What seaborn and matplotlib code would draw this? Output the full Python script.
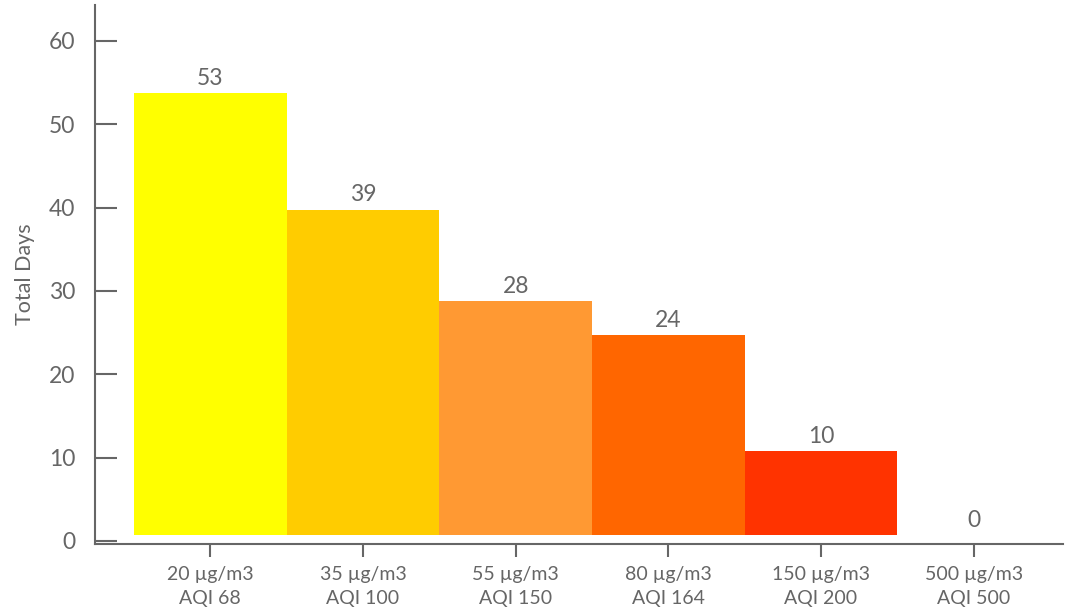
import matplotlib
matplotlib.use("Agg")
import matplotlib.pyplot as plt
import seaborn as sns
import pandas as pd

# PM2.5 categories and the number of days in each
categories = ["20 µg/m3\nAQI 68", "35 µg/m3\nAQI 100", "55 µg/m3\nAQI 150",
              "80 µg/m3\nAQI 164", "150 µg/m3\nAQI 200", "500 µg/m3\nAQI 500"]
days = [53, 39, 28, 24, 10, 0]
colors = ["#FFFF00", "#FFCC00", "#FF9933", "#FF6600", "#FF3300", "#CC0000"]
y_ticks = [0, 10, 20, 30, 40, 50, 60]

sns.set_theme(style="white")
plt.rcParams['font.family'] = ['Lato', 'DejaVu Sans']
grey = "#666666"

df = pd.DataFrame({"cat": categories, "days": days})

fig = plt.figure(figsize=(10.68, 6.13), dpi=100)
ax = fig.add_axes([95 / 1068, 1 - 544 / 613, 968 / 1068, 539 / 613])

sns.barplot(data=df, x="cat", y="days", hue="cat", palette=colors,
            width=1.0, legend=False, ax=ax, bottom=0.75, saturation=1,
            linewidth=0, edgecolor="none")

for bars in ax.containers:
    ax.bar_label(bars, labels=[f"{v:.0f}" for v in bars.datavalues],
                 padding=3, fontsize=16.5, color=grey)

ax.set_xlim(-0.755, 5.585)
ax.set_ylim(-0.36, 64.3)
ax.set_yticks(y_ticks)
ax.set_xlabel("")
ax.set_ylabel("Total Days", fontsize=15.5, color=grey, labelpad=10)

for side in ["top", "right"]:
    ax.spines[side].set_visible(False)
for side in ["left", "bottom"]:
    ax.spines[side].set_color(grey)
    ax.spines[side].set_linewidth(1.5)

ax.tick_params(axis="y", direction="in", length=16, width=1.5, color=grey,
               labelsize=16.5, labelcolor=grey, pad=14, left=True)
ax.tick_params(axis="x", direction="out", length=9, width=1.5, color=grey,
               labelsize=14, labelcolor=grey, pad=7, bottom=True)
for lab in ax.get_xticklabels():
    lab.set_linespacing(1.45)

fig.savefig("out.png", dpi=100)
